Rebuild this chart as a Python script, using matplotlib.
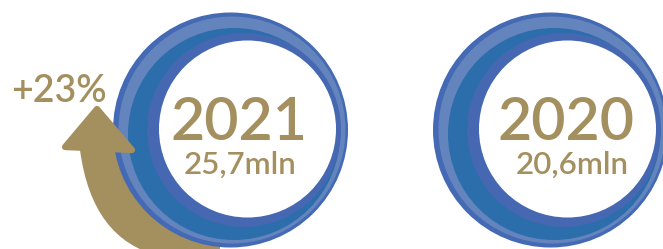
import matplotlib
matplotlib.use('Agg')
import matplotlib.pyplot as plt
from matplotlib.patches import Circle, Polygon, PathPatch
from matplotlib.path import Path

# data
years = ['2021', '2020']
volumes = ['25,7mln', '20,6mln']
growth = '+23%'

# layout (pixel units, y going down)
circle_x = [230.5, 550.5]
circle_y = 130
year_x = [239, 566]
volume_x = [240, 572]

GOLD = '#A48F5F'
rings = [  # dx, dy, radius, colour
    (0, 0, 117.5, '#4469B5'),
    (1.5, 0, 113.5, '#6384BC'),
    (3.5, 4, 106, '#2C6EAB'),
    (13.5, 0, 97, '#4667B2'),
    (17, -1, 88.5, 'white'),
]

fig = plt.figure(figsize=(6.63, 2.49), dpi=100)
ax = fig.add_axes([0, 0, 1, 1])
ax.set_xlim(0, 663)
ax.set_ylim(249, 0)
ax.set_aspect('equal')
ax.axis('off')

font = 'Lato'

for cx, yx, vx, year, vol in zip(circle_x, year_x, volume_x, years, volumes):
    for dx, dy, r, col in rings:
        ax.add_patch(Circle((cx + dx, circle_y + dy), r, color=col, lw=0, zorder=2))
    ax.text(yx, 140, year, ha='center', va='baseline', fontsize=42.5,
            color=GOLD, family=font, fontweight='semibold', zorder=5)
    ax.text(vx, 173.5, vol, ha='center', va='baseline', fontsize=22.5,
            color=GOLD, family=font, fontweight='semibold', zorder=5)

# arrow shaft, partly hidden under the first circle
verts = [(80, 150), (92, 240), (160, 256), (220, 256), (220, 150), (80, 150)]
codes = [Path.MOVETO, Path.CURVE3, Path.CURVE3, Path.LINETO, Path.LINETO, Path.CLOSEPOLY]
ax.add_patch(PathPatch(Path(verts, codes), color=GOLD, lw=0, zorder=1))

# arrow head on top of the circle
ax.add_patch(Polygon([(97, 109), (65, 147), (132, 150)], closed=True,
                     facecolor=GOLD, edgecolor=GOLD, lw=4.5, joinstyle='round', zorder=4))

ax.text(58.5, 102, growth, ha='center', va='baseline', fontsize=27,
        color=GOLD, family=font, fontweight='semibold', zorder=5)

fig.savefig('out.png', dpi=100)
